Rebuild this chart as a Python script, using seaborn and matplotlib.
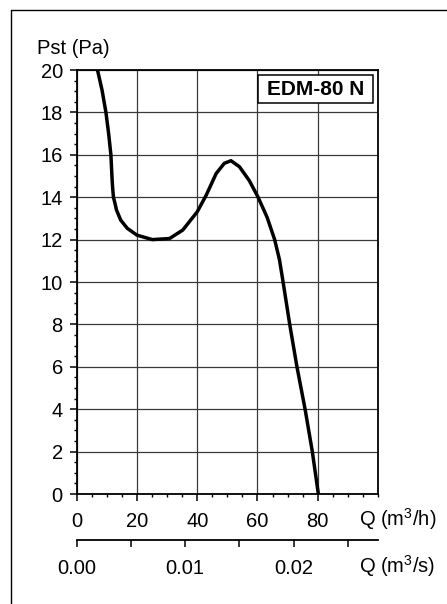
import matplotlib
matplotlib.use('Agg')
import matplotlib.pyplot as plt
import seaborn as sns
import pandas as pd
from matplotlib.patches import Rectangle
from matplotlib.ticker import MultipleLocator, FixedLocator

# Kennlinie EDM-80 N
q_m3h = [6.9, 8.4, 9.7, 10.6, 11.35, 11.7, 11.9, 12.2, 12.7, 13.2, 14.6, 16.8,
         20.0, 25.1, 30.8, 35.2, 40.0, 43.0, 46.3, 49.0, 51.2, 54.0, 57.3,
         60.2, 63.2, 65.7, 67.3, 68.5, 69.6, 70.7, 73.1, 75.8, 78.2, 80.2]
pst_pa = [20.0, 19.06, 18.0, 17.0, 16.0, 14.97, 14.49, 14.0, 13.71, 13.4, 12.92,
          12.53, 12.21, 12.0, 12.05, 12.45, 13.31, 14.1, 15.12, 15.6, 15.72,
          15.44, 14.78, 14.0, 13.05, 12.0, 11.05, 10.0, 9.0, 8.0, 6.0, 4.0,
          2.0, 0.0]

x_major = [0, 20, 40, 60, 80]
y_major = [0, 2, 4, 6, 8, 10, 12, 14, 16, 18, 20]
s_major = [0.00, 0.01, 0.02]
s_labels = ['0.00', '0.01', '0.02']

df = pd.DataFrame({'Q': q_m3h, 'Pst': pst_pa})

sns.set_theme(style='white')
plt.rcParams['font.family'] = ['Liberation Sans', 'DejaVu Sans']
plt.rcParams['text.color'] = 'black'
plt.rcParams['mathtext.fontset'] = 'custom'
plt.rcParams['mathtext.rm'] = 'Liberation Sans'

W, H = 447, 604
fig = plt.figure(figsize=(W / 100, H / 100), dpi=100)
fig.patch.set_facecolor('white')

# Rahmen links und oben
fig.add_artist(plt.Line2D([10.5 / W, 10.5 / W], [0, 1 - 9.5 / H], color='black', lw=1.0))
fig.add_artist(plt.Line2D([10.5 / W, 1], [1 - 9.5 / H, 1 - 9.5 / H], color='black', lw=1.0))

ax = fig.add_axes([76.7 / W, 110 / H, 301.3 / W, 424 / H])
sns.lineplot(data=df, x='Q', y='Pst', ax=ax, sort=False, estimator=None,
             color='black', lw=2.5, zorder=3, solid_joinstyle='round')
ax.set_xlim(0, 100)
ax.set_ylim(0, 20)
ax.xaxis.set_major_locator(FixedLocator(x_major))
ax.yaxis.set_major_locator(FixedLocator(y_major))
ax.xaxis.set_minor_locator(MultipleLocator(5))
ax.yaxis.set_minor_locator(MultipleLocator(0.5))
ax.grid(True, which='major', color='#3a3a3a', lw=0.9)
for s in ax.spines.values():
    s.set_color('black')
    s.set_linewidth(1.3)
ax.tick_params(which='major', direction='out', length=5, width=1.1, colors='black',
               labelsize=14.5, bottom=True, left=True)
ax.tick_params(which='minor', direction='out', length=2.5, width=1.0, colors='black',
               bottom=True, left=True)
ax.tick_params(axis='x', which='major', pad=8)
ax.tick_params(axis='y', which='major', pad=5)
ax.set_xlabel('')
ax.set_ylabel('')

# Typenschild oben rechts
fig.add_artist(Rectangle((258 / W, 1 - 103 / H), 115 / W, 28 / H, transform=fig.transFigure,
                         fc='white', ec='black', lw=1.1, zorder=5))
fig.text(315.5 / W, 1 - 89.5 / H, 'EDM-80 N', fontsize=15, fontweight='bold',
         color='black', ha='center', va='center', zorder=6)

fig.text(37 / W, 1 - 49 / H, 'Pst (Pa)', fontsize=14.5, color='black', ha='left', va='center')
fig.text(359 / W, 1 - 519 / H, 'Q (m$^3$/h)', fontsize=14.5, color='black', ha='left', va='center')
fig.text(359 / W, 1 - 566 / H, 'Q (m$^3$/s)', fontsize=14.5, color='black', ha='left', va='center')

# zweite Achse in m3/s
ax2 = fig.add_axes([76.7 / W, 64 / H, 301.3 / W, 1e-4])
ax2.set_facecolor('none')
ax2.set_xlim(0, 100 / 3600)
ax2.set_yticks([])
for k in ['top', 'left', 'right']:
    ax2.spines[k].set_visible(False)
ax2.spines['bottom'].set_color('black')
ax2.spines['bottom'].set_linewidth(1.3)
ax2.xaxis.set_major_locator(FixedLocator(s_major))
ax2.set_xticklabels(s_labels)
ax2.xaxis.set_minor_locator(MultipleLocator(0.005))
ax2.tick_params(which='both', direction='out', length=5, width=1.1, colors='black',
                labelsize=14.5, bottom=True, pad=9)

fig.savefig('out.png', dpi=100, facecolor='white')
